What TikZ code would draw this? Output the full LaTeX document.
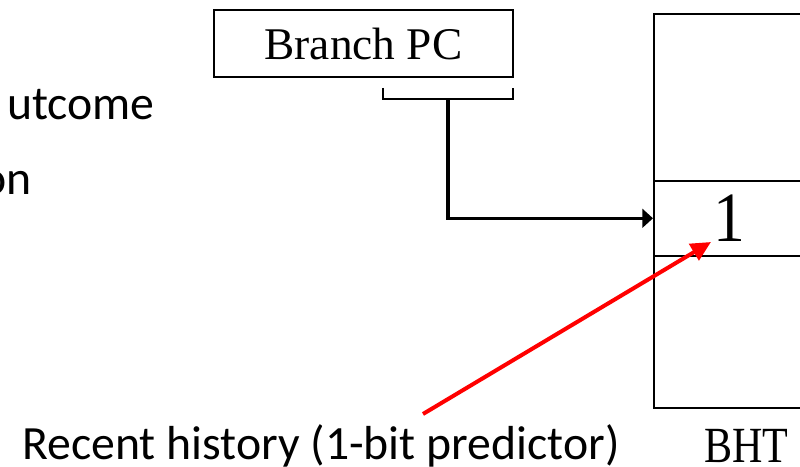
\documentclass[tikz,border=0pt]{standalone}
\usepackage{fontspec}
\setmainfont{Liberation Serif}
\setsansfont{Carlito}
\usetikzlibrary{arrows.meta,calc}

\tikzset{
  regbox/.style={draw, line width=1.2pt, inner sep=0pt},
  cell/.style={draw, line width=1.2pt, inner sep=0pt, minimum width=114pt, anchor=north west},
  label/.style={font=\sffamily\fontsize{35.8}{42}\selectfont, inner sep=0pt},
  link/.style={line width=2.3pt, -{Triangle[length=8pt,width=14pt]}},
  hint/.style={draw=red, line width=3pt, -{Triangle[length=15pt,width=14pt]}}
}

\begin{document}
\begin{tikzpicture}[x=0.75pt,y=-0.75pt]
  \clip (0,0) rectangle (800,467);
  \fill[white] (0,0) rectangle (800,467);

  % slide text running in from the left
  \node[label, anchor=base east] (t1) at (155,119) {utcome};
  \node[label, anchor=base east] (t2) at (32,194) {on};

  % branch PC register
  \node[regbox, minimum width=224pt, minimum height=50pt,
        font=\fontsize{34}{40}\selectfont] (pc) at (363.5,43.5) {Branch PC};

  % bracket selecting the index bits
  \coordinate (bl) at (383,88);
  \coordinate (br) at (513,88);
  \draw[line width=1.2pt] (bl) -- ++(0,11) -| (br);
  \coordinate (bm) at ($(bl)!0.5!(br)+(0,11)$);

  % branch history table
  \node[cell, minimum height=125.25pt] (top) at (653,13) {};
  \node[cell, minimum height=56.25pt, font=\fontsize{53}{58}\selectfont] (mid) at (653,180) {\scalebox{0.9}[1]{1}};
  \node[cell, minimum height=114pt] (bot) at (653,255) {};
  \node[anchor=base west, inner sep=0pt, font=\fontsize{38}{44}\selectfont] (bht) at (704,462) {\scalebox{0.83}[1]{BHT}};

  % index into the table
  \draw[link] (bm) |- (mid.west);

  % annotation
  \node[label, anchor=base west] (note) at (22,459) {Recent history (1-bit predictor)};
  \coordinate (ns) at (423,414);
  \coordinate (nt) at (711,242);
  \draw[hint] (ns) -- (nt);
\end{tikzpicture}
\end{document}
